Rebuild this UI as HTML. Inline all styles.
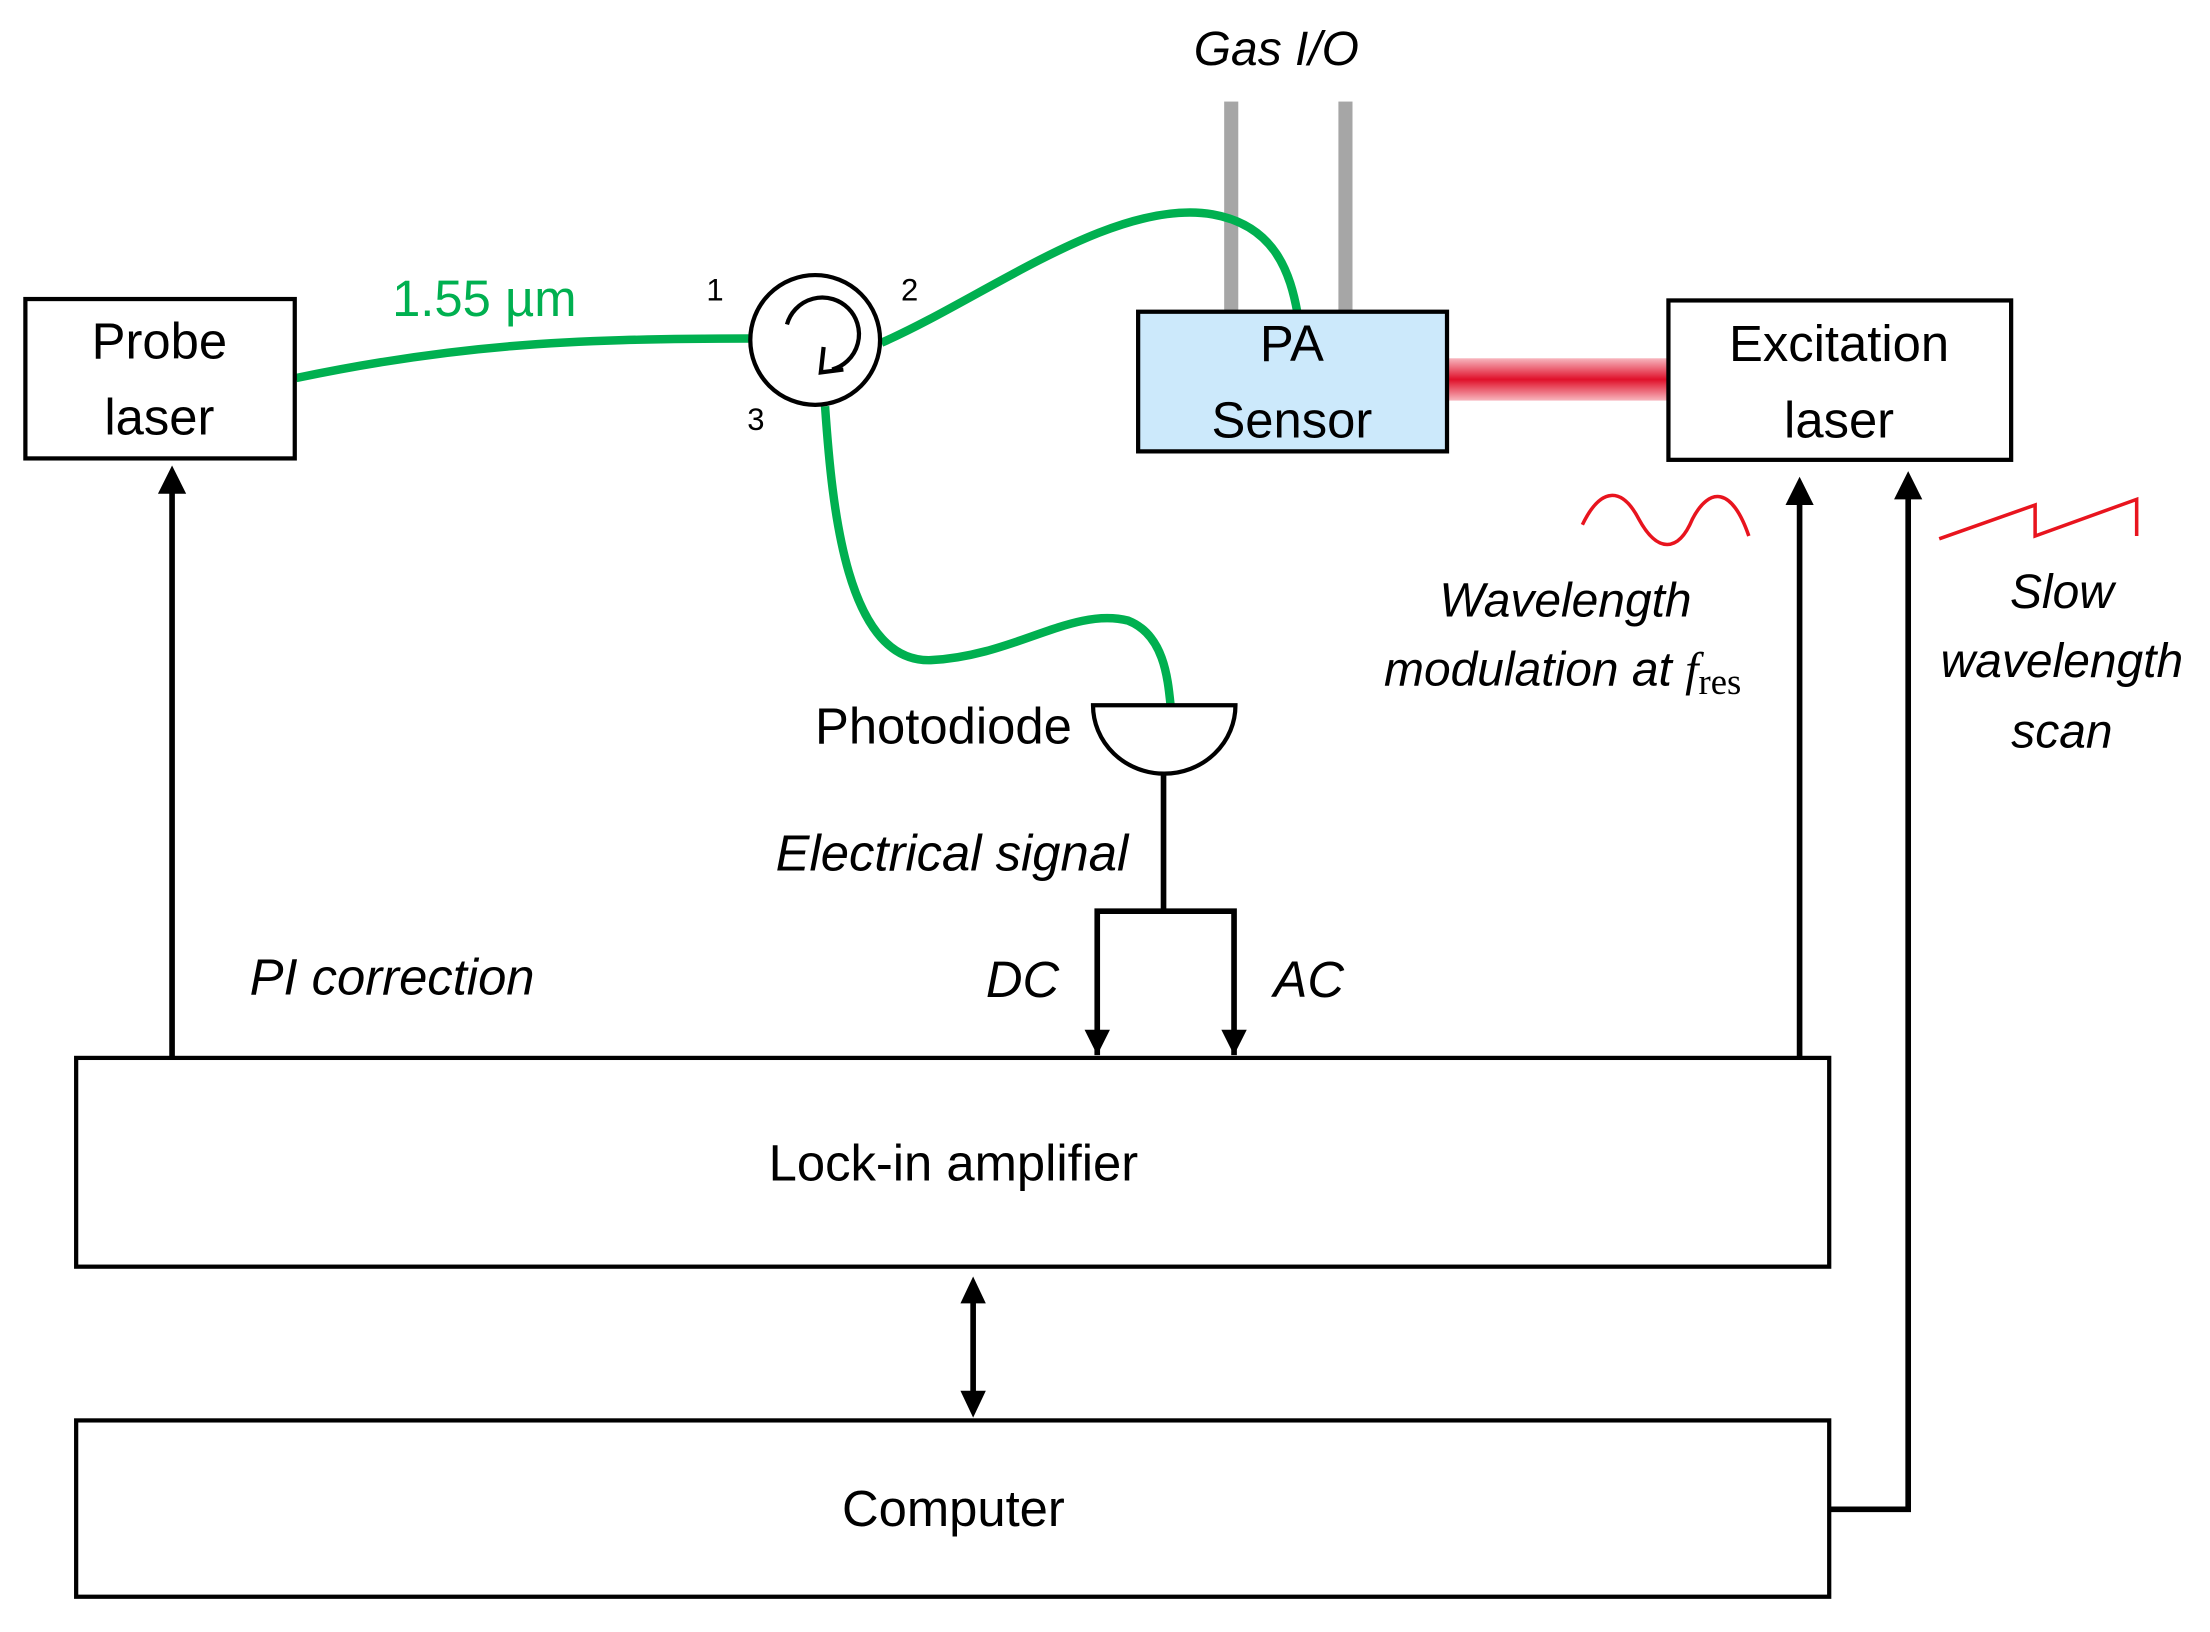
<!DOCTYPE html>
<html><head><meta charset="utf-8"><style>html,body{margin:0;padding:0;background:#fff}svg{display:block}</style></head>
<body>
<svg width="2210" height="1632" viewBox="0 0 1567 1157" preserveAspectRatio="none" xmlns="http://www.w3.org/2000/svg" font-family="Liberation Sans, sans-serif">
<defs>
<linearGradient id="rb" x1="0" y1="0" x2="0" y2="1">
<stop offset="0" stop-color="#f7b6be"/><stop offset="0.5" stop-color="#e0102a"/><stop offset="1" stop-color="#f7b6be"/>
</linearGradient>
</defs>
<rect x="868" y="72" width="10" height="150" fill="#a6a6a6"/>
<rect x="949" y="72" width="10" height="150" fill="#a6a6a6"/>
<text x="905" y="46" font-size="34" font-style="italic" text-anchor="middle">Gas I/O</text>
<rect x="1026" y="254" width="158" height="30" fill="url(#rb)"/>
<g fill="none" stroke="#00b050" stroke-width="6">
<path d="M210,268 C320,245 400,240 532,240"/>
<path d="M625,243 C700,210 790,140 860,152 C905,160 915,195 920,222"/>
<path d="M585,288 C590,360 600,470 660,468 C720,465 760,430 800,440 C825,450 828,480 830,500"/>
</g>
<text x="278" y="224" font-size="36" fill="#00b050">1.55 µm</text>
<rect x="18" y="212" width="191" height="113" fill="#fff" stroke="#000" stroke-width="3"/>
<text x="113" y="254" font-size="36" text-anchor="middle">Probe</text>
<text x="113" y="308" font-size="36" text-anchor="middle">laser</text>
<rect x="807" y="221" width="219" height="99" fill="#cce9fb" stroke="#000" stroke-width="3"/>
<text x="916" y="256" font-size="36" text-anchor="middle">PA</text>
<text x="916" y="310" font-size="36" text-anchor="middle">Sensor</text>
<rect x="1183" y="213" width="243" height="113" fill="#fff" stroke="#000" stroke-width="3"/>
<text x="1304" y="256" font-size="36" text-anchor="middle">Excitation</text>
<text x="1304" y="310" font-size="36" text-anchor="middle">laser</text>
<circle cx="578" cy="241" r="46" fill="#fff" stroke="#000" stroke-width="3"/>
<path d="M558,230 A26,26 0 1 1 590,262" fill="none" stroke="#000" stroke-width="3"/>
<path d="M584,246 L582,264 L598,262" fill="none" stroke="#000" stroke-width="3"/>
<text x="507" y="213" font-size="22" text-anchor="middle">1</text>
<text x="645" y="213" font-size="22" text-anchor="middle">2</text>
<text x="536" y="305" font-size="22" text-anchor="middle">3</text>
<path d="M775,500 L876,500 A50,48 0 0 1 775,500 z" fill="#fff" stroke="#000" stroke-width="3"/>
<text x="760" y="527" font-size="36" text-anchor="end">Photodiode</text>
<line x1="825" y1="548" x2="825" y2="646" stroke="#000" stroke-width="4"/>
<text x="800" y="617" font-size="36" font-style="italic" text-anchor="end">Electrical signal</text>
<polyline points="778,748 778,646 875,646 875,748" fill="none" stroke="#000" stroke-width="4"/>
<path d="M769,730 L778,748 L787,730 z" fill="#000"/>
<path d="M866,730 L875,748 L884,730 z" fill="#000"/>
<text x="725" y="707" font-size="36" font-style="italic" text-anchor="middle">DC</text>
<text x="928" y="707" font-size="36" font-style="italic" text-anchor="middle">AC</text>
<rect x="54" y="750" width="1243" height="148" fill="#fff" stroke="#000" stroke-width="3"/>
<text x="676" y="837" font-size="36" text-anchor="middle">Lock-in amplifier</text>
<rect x="54" y="1007" width="1243" height="125" fill="#fff" stroke="#000" stroke-width="3"/>
<text x="676" y="1082" font-size="36" text-anchor="middle">Computer</text>
<line x1="690" y1="922" x2="690" y2="988" stroke="#000" stroke-width="4"/>
<path d="M681,924 L690,905 L699,924 z M681,986 L690,1005 L699,986 z" fill="#000"/>
<line x1="122" y1="750" x2="122" y2="348" stroke="#000" stroke-width="4"/>
<path d="M112,350 L122,330 L132,350 z" fill="#000"/>
<text x="278" y="705" font-size="36" font-style="italic" text-anchor="middle">PI correction</text>
<line x1="1276" y1="750" x2="1276" y2="356" stroke="#000" stroke-width="4"/>
<path d="M1266,358 L1276,338 L1286,358 z" fill="#000"/>
<polyline points="1297,1070 1353,1070 1353,352" fill="none" stroke="#000" stroke-width="4"/>
<path d="M1343,354 L1353,334 L1363,354 z" fill="#000"/>
<path d="M1122,372 C1135,345 1150,345 1162,368 C1175,392 1190,392 1200,368 C1212,345 1228,345 1240,380" fill="none" stroke="#e8141e" stroke-width="2.5"/>
<path d="M1375,382 L1443,358 L1443,380 L1515,354 L1515,380" fill="none" stroke="#e8141e" stroke-width="2.5"/>
<g font-size="34" font-style="italic" text-anchor="middle">
<text x="1110" y="437">Wavelength</text>
<text x="1108" y="486">modulation at <tspan font-family="Liberation Serif, serif">f</tspan><tspan font-family="Liberation Serif, serif" font-style="normal" font-size="26" dy="6">res</tspan></text>
<text x="1462" y="431">Slow</text>
<text x="1462" y="480">wavelength</text>
<text x="1462" y="530">scan</text>
</g>
</svg>
</body></html>
